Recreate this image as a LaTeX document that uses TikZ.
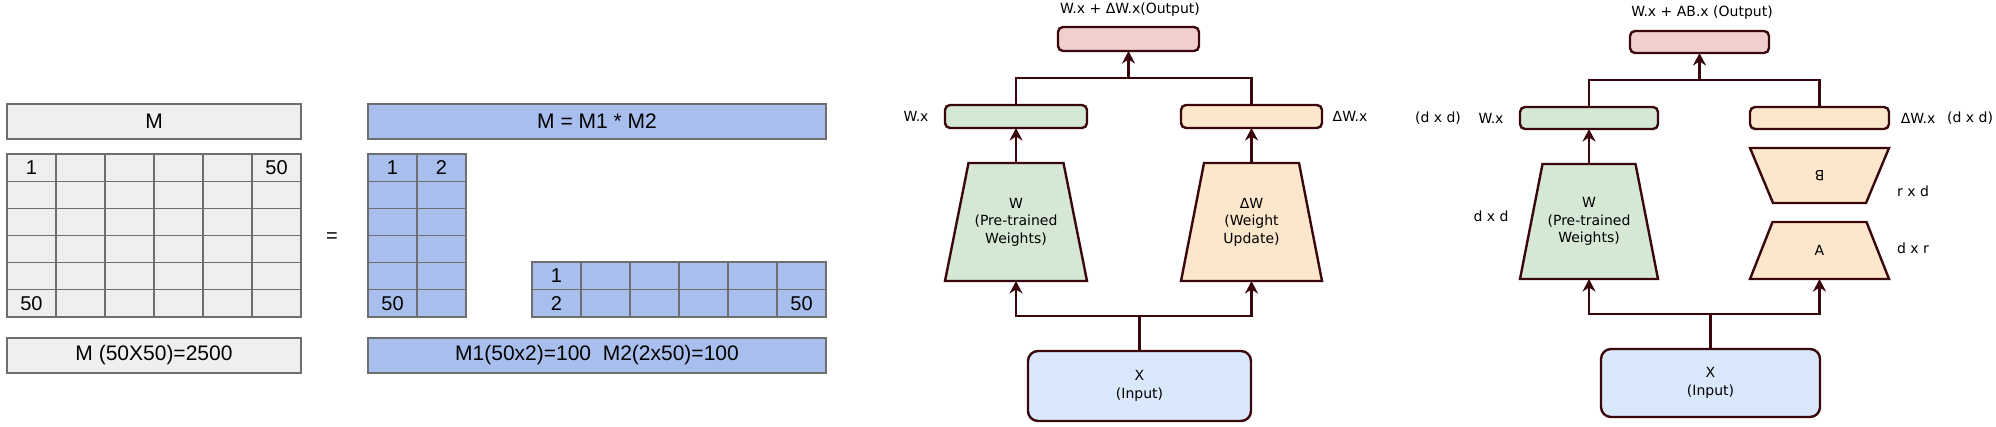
\documentclass[tikz,border=0pt]{standalone}
\usepackage{fontspec}
\setmainfont{Liberation Sans}
\newfontfamily\dvfont{DejaVu Sans}
\usetikzlibrary{arrows.meta,backgrounds,calc}
\definecolor{lgray}{RGB}{239,239,239}
\definecolor{lblue}{RGB}{168,191,238}
\definecolor{gline}{RGB}{110,110,110}
\definecolor{dline}{RGB}{58,8,12}
\definecolor{wgreen}{RGB}{213,232,212}
\definecolor{dorange}{RGB}{252,230,204}
\definecolor{opink}{RGB}{242,207,207}
\definecolor{xblue}{RGB}{218,232,252}
\begin{document}
\begin{tikzpicture}[x=1pt,y=-1pt,
  gbox/.style={draw=gline, line width=1.3pt, minimum width=294pt, minimum height=35pt, inner sep=0pt, outer sep=0pt, font=\fontsize{21}{25}\selectfont},
  gcell/.style={draw=gline, line width=1.2pt, minimum width=49pt, minimum height=27.17pt, inner sep=0pt, outer sep=0pt},
  ctext/.style={inner sep=0pt, font=\fontsize{20}{24}\selectfont},
  dshape/.style={draw=dline, line width=2.4pt},
  rbox/.style={dshape, rounded corners=5pt, inner sep=0pt, outer sep=0pt, minimum height=23pt},
  conn/.style={draw=dline, line width=2.6pt},
  arr/.style={conn, -{Stealth[length=12.5pt,width=13pt,inset=4pt]}},
  dtext/.style={font=\dvfont\fontsize{14}{17.5}\selectfont, align=center, inner sep=0pt},
  trapn/.style={dtext, inner sep=0pt, outer sep=0pt}
]
\useasboundingbox (0,0) rectangle (1996,426);

% ---------- left: matrices ----------
\node[gbox, fill=lgray] (Mhead) at (154,121.5) {M};
\foreach \r in {0,...,5}{\foreach \c in {0,...,5}{
  \node[gcell, fill=lgray] (m-\r-\c) at ({31.5+49*\c},{167.58+27.17*\r}) {};}}
\node[ctext] (m1t) at (m-0-0) {1};
\node[ctext] (m50a) at (m-0-5) {50};
\node[ctext] (m50b) at (m-5-0) {50};
\node[gbox, fill=lgray] (Mfoot) at (154,355.5) {M (50X50)=2500};
\node[ctext] (eq) at (332,238) {=};

\node[gbox, fill=lblue, minimum width=458pt] (Phead) at (597,121.5) {M = M1 * M2};
\foreach \r in {0,...,5}{\foreach \c in {0,1}{
  \node[gcell, fill=lblue] (a-\r-\c) at ({392.5+49*\c},{167.58+27.17*\r}) {};}}
\node[ctext] (a1t) at (a-0-0) {1};
\node[ctext] (a2t) at (a-0-1) {2};
\node[ctext] (a50t) at (a-5-0) {50};
\foreach \r in {0,1}{\foreach \c in {0,...,5}{
  \node[gcell, fill=lblue, minimum height=27.5pt] (b-\r-\c) at ({556.5+49*\c},{275.75+27.5*\r}) {};}}
\node[ctext] (b1t) at (b-0-0) {1};
\node[ctext] (b2t) at (b-1-0) {2};
\node[ctext] (b50t) at (b-1-5) {50};
\node[gbox, fill=lblue, minimum width=458pt] (Pfoot) at (597,355.5) {M1(50x2)=100\ \ M2(2x50)=100};

% ---------- middle: full fine-tuning ----------
\node[dtext] (o1t) at (1130,10) {W.x + ΔW.x(Output)};
\node[rbox, fill=opink, minimum width=141pt, minimum height=24pt] (out1) at (1128.5,39) {};
\node[rbox, fill=wgreen, minimum width=142pt] (wx1) at (1016,116.5) {};
\node[dtext] (wx1l) at (916,116.5) {W.x};
\node[rbox, fill=dorange, minimum width=141pt] (dwx1) at (1251.5,116.5) {};
\node[dtext] (dwx1l) at (1350,116.5) {ΔW.x};
\node[trapn, minimum width=142pt, minimum height=118pt] (W1) at (1016,222) {W\\(Pre-trained\\Weights)};
\node[trapn, minimum width=141pt, minimum height=118pt] (DW1) at (1251.5,222) {ΔW\\(Weight\\Update)};
\node[rbox, rounded corners=10pt, fill=xblue, minimum width=223pt, minimum height=70pt, font=\dvfont\fontsize{14}{18}\selectfont, align=center] (X1) at (1139.5,386) {X\\(Input)};
\begin{scope}[on background layer]
  \draw[dshape, fill=wgreen] (W1.south west) -- (W1.south east) -- ([xshift=-23.5pt]W1.north east) -- ([xshift=23.5pt]W1.north west) -- cycle;
  \draw[dshape, fill=dorange] (DW1.south west) -- (DW1.south east) -- ([xshift=-23pt]DW1.north east) -- ([xshift=23pt]DW1.north west) -- cycle;
\end{scope}
\coordinate (j1) at (1128.5,78);
\draw[conn] (wx1.north) |- (j1) -| (dwx1.north);
\draw[arr] (j1) -- (out1.south);
\draw[arr] (W1.north) -- (wx1.south);
\draw[arr] (DW1.north) -- (dwx1.south);
\coordinate (k1) at (1139.5,316);
\draw[conn] (X1.north) -- (k1);
\draw[arr] (k1) -| (W1.south);
\draw[arr] (k1) -| (DW1.south);

% ---------- right: LoRA ----------
\node[dtext] (o2t) at (1702,13) {W.x + AB.x (Output)};
\node[rbox, fill=opink, minimum width=139pt, minimum height=22pt] (out2) at (1699.5,42) {};
\node[rbox, fill=wgreen, minimum width=138pt, minimum height=22pt] (wx2) at (1589,118) {};
\node[dtext] (wx2l) at (1491,118) {W.x};
\node[dtext] (wx2d) at (1438,118) {(d x d)};
\node[rbox, fill=dorange, minimum width=139pt, minimum height=22pt] (dwx2) at (1819.5,118) {};
\node[dtext] (dwx2l) at (1918,118) {ΔW.x};
\node[dtext] (dwx2d) at (1970,118) {(d x d)};
\node[trapn, minimum width=138pt, minimum height=115pt] (W2) at (1589,221.5) {W\\(Pre-trained\\Weights)};
\node[dtext] (W2d) at (1491,216) {d x d};
\node[trapn, minimum width=139pt, minimum height=55pt] (Bn) at (1819.5,175.5) {};
\node[dtext, rotate=180] (Bt) at (1819.5,176) {B};
\node[dtext] (Bd) at (1913,191) {r x d};
\node[trapn, minimum width=139pt, minimum height=57pt] (An) at (1819.5,250.5) {A};
\node[dtext] (Ad) at (1913,248) {d x r};
\node[rbox, rounded corners=10pt, fill=xblue, minimum width=219pt, minimum height=68pt, font=\dvfont\fontsize{14}{18}\selectfont, align=center] (X2) at (1710.5,383) {X\\(Input)};
\begin{scope}[on background layer]
  \draw[dshape, fill=wgreen] (W2.south west) -- (W2.south east) -- ([xshift=-22.5pt]W2.north east) -- ([xshift=22.5pt]W2.north west) -- cycle;
  \draw[dshape, fill=dorange] (Bn.north west) -- (Bn.north east) -- ([xshift=-23pt]Bn.south east) -- ([xshift=23pt]Bn.south west) -- cycle;
  \draw[dshape, fill=dorange] (An.south west) -- (An.south east) -- ([xshift=-22.5pt]An.north east) -- ([xshift=22.5pt]An.north west) -- cycle;
\end{scope}
\coordinate (j2) at (1699.5,80);
\draw[conn] (wx2.north) |- (j2) -| (dwx2.north);
\draw[arr] (j2) -- (out2.south);
\draw[arr] (W2.north) -- (wx2.south);
\coordinate (k2) at (1710.5,314);
\draw[conn] (X2.north) -- (k2);
\draw[arr] (k2) -| (W2.south);
\draw[arr] (k2) -| (An.south);
\end{tikzpicture}
\end{document}
